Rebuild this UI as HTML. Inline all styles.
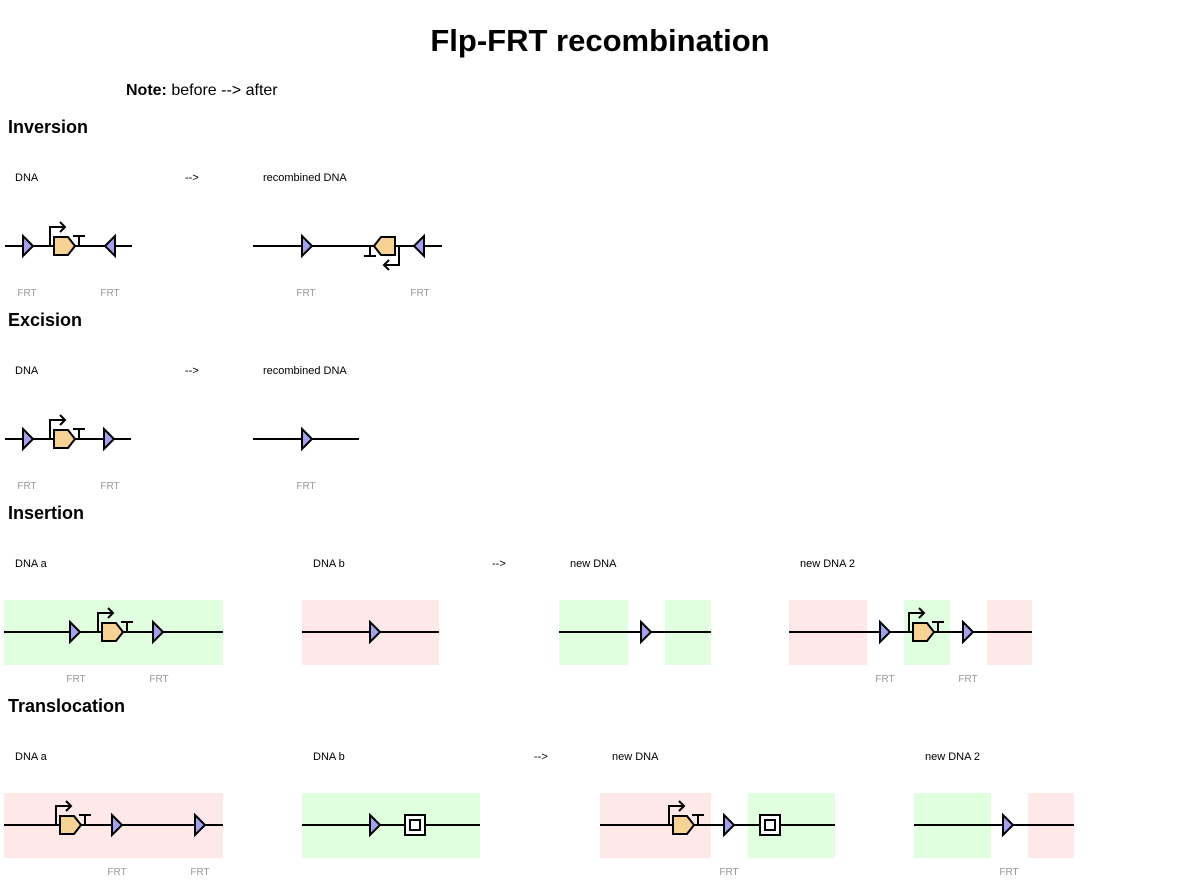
<!DOCTYPE html>
<html><head><meta charset="utf-8"><style>
html,body{margin:0;padding:0;background:#fff;width:1200px;height:885px;overflow:hidden}
svg{display:block}
text{font-family:"Liberation Sans",sans-serif}
</style></head><body>
<svg width="1200" height="885" viewBox="0 0 1200 885" xmlns="http://www.w3.org/2000/svg">
<defs>
<g id="fr"><polygon points="0,-10 10,0 0,10" fill="#a4a0ee" stroke="#000" stroke-width="2" stroke-linejoin="miter"/></g>
<g id="fl"><polygon points="10,-10 0,0 10,10" fill="#a4a0ee" stroke="#000" stroke-width="2"/></g>
<g id="gene">
<path d="M0,0 V-19 H14" fill="none" stroke="#000" stroke-width="2"/>
<path d="M10,-24 L15,-19 L10,-14" fill="none" stroke="#000" stroke-width="2"/>
<polygon points="4,-9 18,-9 25,0 18,9 4,9" fill="#f6d394" stroke="#000" stroke-width="2"/>
<path d="M29,0 V-10 M23,-10 H35" fill="none" stroke="#000" stroke-width="2"/>
</g>
<g id="sq"><rect x="0" y="-10" width="20" height="20" fill="#fff" stroke="#000" stroke-width="2"/><rect x="5" y="-5" width="10" height="10" fill="#fff" stroke="#000" stroke-width="2"/></g>
</defs>

<text x="600" y="51" text-anchor="middle" font-size="31" font-weight="bold">Flp-FRT recombination</text>
<text x="126" y="95" font-size="16"><tspan font-weight="bold">Note:</tspan> before --&gt; after</text>

<g font-size="18" font-weight="bold">
<text x="8" y="133">Inversion</text>
<text x="8" y="326">Excision</text>
<text x="8" y="519">Insertion</text>
<text x="8" y="712">Translocation</text>
</g>

<g font-size="11">
<text x="15" y="181">DNA</text><text x="185" y="181">--&gt;</text><text x="263" y="181">recombined DNA</text>
<text x="15" y="374">DNA</text><text x="185" y="374">--&gt;</text><text x="263" y="374">recombined DNA</text>
<text x="15" y="567">DNA a</text><text x="313" y="567">DNA b</text><text x="492" y="567">--&gt;</text><text x="570" y="567">new DNA</text><text x="800" y="567">new DNA 2</text>
<text x="15" y="760">DNA a</text><text x="313" y="760">DNA b</text><text x="534" y="760">--&gt;</text><text x="612" y="760">new DNA</text><text x="925" y="760">new DNA 2</text>
</g>

<g font-size="10" fill="#999" text-anchor="middle">
<text x="27" y="296">FRT</text><text x="110" y="296">FRT</text><text x="306" y="296">FRT</text><text x="420" y="296">FRT</text>
<text x="27" y="489">FRT</text><text x="110" y="489">FRT</text><text x="306" y="489">FRT</text>
<text x="76" y="682">FRT</text><text x="159" y="682">FRT</text><text x="885" y="682">FRT</text><text x="968" y="682">FRT</text>
<text x="117" y="875">FRT</text><text x="200" y="875">FRT</text><text x="729" y="875">FRT</text><text x="1009" y="875">FRT</text>
</g>

<!-- backgrounds -->
<rect x="4" y="600" width="219" height="65" fill="#dfffdf"/>
<rect x="302" y="600" width="137" height="65" fill="#ffe8e8"/>
<rect x="559" y="600" width="69" height="65" fill="#dfffdf"/>
<rect x="665" y="600" width="46" height="65" fill="#dfffdf"/>
<rect x="789" y="600" width="78" height="65" fill="#ffe8e8"/>
<rect x="904" y="600" width="46" height="65" fill="#dfffdf"/>
<rect x="987" y="600" width="45" height="65" fill="#ffe8e8"/>
<rect x="4" y="793" width="219" height="65" fill="#ffe8e8"/>
<rect x="302" y="793" width="178" height="65" fill="#dfffdf"/>
<rect x="600" y="793" width="111" height="65" fill="#ffe8e8"/>
<rect x="748" y="793" width="87" height="65" fill="#dfffdf"/>
<rect x="914" y="793" width="77" height="65" fill="#dfffdf"/>
<rect x="1028" y="793" width="46" height="65" fill="#ffe8e8"/>

<!-- backbones -->
<g stroke="#000" stroke-width="2">
<line x1="5" y1="246" x2="132" y2="246"/><line x1="253" y1="246" x2="442" y2="246"/>
<line x1="5" y1="439" x2="131" y2="439"/><line x1="253" y1="439" x2="359" y2="439"/>
<line x1="4" y1="632" x2="223" y2="632"/><line x1="302" y1="632" x2="439" y2="632"/>
<line x1="559" y1="632" x2="711" y2="632"/><line x1="789" y1="632" x2="1032" y2="632"/>
<line x1="4" y1="825" x2="223" y2="825"/><line x1="302" y1="825" x2="480" y2="825"/>
<line x1="600" y1="825" x2="835" y2="825"/><line x1="914" y1="825" x2="1074" y2="825"/>
</g>

<!-- Inversion -->
<use href="#fr" x="23" y="246"/><use href="#gene" x="50" y="246"/><use href="#fl" x="105" y="246"/>
<use href="#fr" x="302" y="246"/><g transform="translate(399,246) scale(-1,-1)"><use href="#gene"/></g><use href="#fl" x="414" y="246"/>
<!-- Excision -->
<use href="#fr" x="23" y="439"/><use href="#gene" x="50" y="439"/><use href="#fr" x="104" y="439"/>
<use href="#fr" x="302" y="439"/>
<!-- Insertion -->
<use href="#fr" x="70" y="632"/><use href="#gene" x="98" y="632"/><use href="#fr" x="153" y="632"/>
<use href="#fr" x="370" y="632"/>
<use href="#fr" x="641" y="632"/>
<use href="#fr" x="880" y="632"/><use href="#gene" x="909" y="632"/><use href="#fr" x="963" y="632"/>
<!-- Translocation -->
<use href="#gene" x="56" y="825"/><use href="#fr" x="112" y="825"/><use href="#fr" x="195" y="825"/>
<use href="#fr" x="370" y="825"/><use href="#sq" x="405" y="825"/>
<use href="#gene" x="669" y="825"/><use href="#fr" x="724" y="825"/><use href="#sq" x="760" y="825"/>
<use href="#fr" x="1003" y="825"/>
</svg>
</body></html>
